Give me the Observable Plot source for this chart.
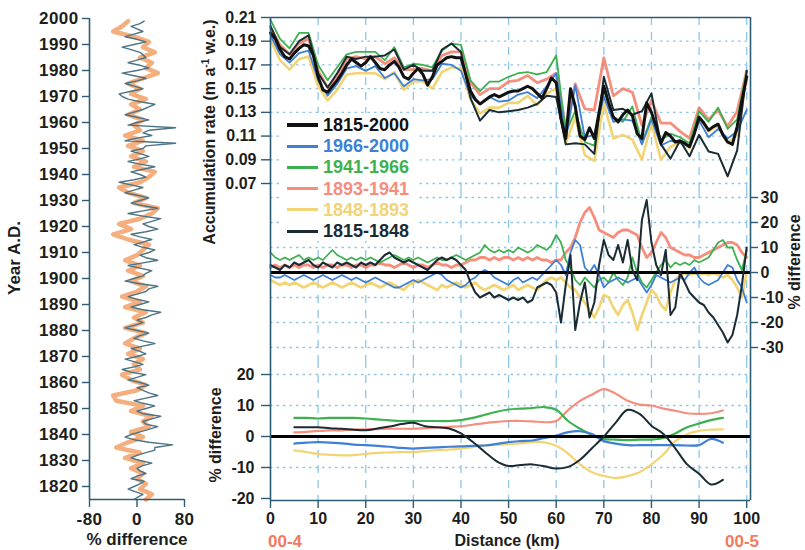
<!DOCTYPE html>
<html><head><meta charset="utf-8">
<script src="https://cdn.jsdelivr.net/npm/d3@7"></script>
<script src="https://cdn.jsdelivr.net/npm/@observablehq/plot@0.6"></script>
<style>
html,body{margin:0;padding:0;background:#fff;}
#root{position:relative;width:805px;height:550px;overflow:hidden;background:#fff;}
#root svg{position:absolute;}
</style></head>
<body><div id="root"></div>
<script>
// ---------------- DATA ----------------
// Left panel: % difference by year
const yearsGray = d3.range(1815, 2000);      // annual, 1815-1999
const grayDiff = [-5,2,10,-3,-15,-5,5,12,-10,0,
  15,5,0,10,25,5,-10,0,15,30,
  30,60,20,-5,-20,-10,5,20,35,15,
  10,25,40,10,0,15,30,10,-5,15,
  35,20,10,0,20,5,-15,0,15,-10,
  -25,-5,10,-5,-20,0,15,5,-10,10,
  30,10,-5,5,20,0,-20,-5,10,0,
  15,25,40,10,-10,5,20,0,-15,0,
  15,20,35,5,-20,-5,10,15,25,5,
  -15,10,35,15,5,20,30,10,-5,10,
  25,5,-10,15,35,20,10,25,40,10,
  -15,10,35,10,-10,5,20,0,-20,-5,
  10,-10,-30,-5,15,5,-10,10,30,5,
  -15,5,20,5,-10,10,15,65,-20,0,
  25,10,20,65,-15,0,20,0,-20,-5,
  10,20,30,5,-15,-25,-30,-10,10,-5,
  -20,0,15,-5,-25,0,20,5,-15,0,
  15,10,5,-10,-25,-5,15,0,-20,-5,
  10,0,-10,5,12];
const yearsOrange = d3.range(1815, 2000, 2); // 2-yr steps, 1815-1999
const orangeDiff = [15,25,5,15,0,10,-10,10,-20,5,
  -35,-15,10,-10,20,10,25,-10,10,-35,
  -40,0,15,-10,-25,5,-5,10,-15,5,
  -20,-5,15,-20,10,-5,15,-20,5,-25,
  0,15,-10,10,-15,5,-20,0,10,20,
  -15,-40,-10,-30,5,25,35,-5,15,-15,
  -30,5,20,30,-5,15,-10,10,-15,10,
  -20,5,-5,10,-15,5,-10,15,-10,5,
  -15,10,35,15,25,5,30,10,20,-5,
  -40,-25,-15];
const yearTicks = d3.range(1820, 2001, 10);
const leftXTicks = [-80, 0, 80];

// Right panels: distance (km)
const kmTicks = [0,10,20,30,40,50,60,70,80,90,100];
const kmFine = d3.range(0, 101);          // 1 km steps
const kmCoarse = d3.range(0, 101, 2);     // 2 km steps
const kmSmooth = d3.range(5, 95.01, 2.5); // smoothed, 2.5 km steps

const seriesNames  = ["1815-2000","1966-2000","1941-1966","1893-1941","1848-1893","1815-1848"];
const seriesColors = ["#111111","#3f7fd6","#3db14f","#f47a66","#f2cf66","#1b2b33"];

// Accumulation rate (m a-1 w.e.)
const acc1815_2000 = [.197,.192,.183,.177,.175,.180,.184,.187,.186,.178,
 .160,.149,.147,.152,.157,.163,.170,.175,.172,.169,
 .172,.177,.172,.167,.166,.170,.173,.168,.160,.158,
 .163,.167,.162,.153,.160,.170,.173,.176,.177,.176,
 .176,.162,.148,.141,.137,.140,.143,.145,.143,.145,
 .147,.148,.148,.150,.152,.150,.146,.142,.150,.159,
 .155,.125,.108,.150,.135,.110,.107,.117,.108,.130,
 .152,.138,.126,.122,.128,.132,.127,.112,.108,.138,
 .130,.118,.104,.113,.110,.105,.106,.104,.101,.112,
 .126,.121,.115,.118,.120,.111,.105,.103,.118,.140,
 .160];
const acc1966_2000 = [.195,.179,.172,.180,.182,.157,.144,.154,.167,.169,.165,.169,.159,.163,.152,.158,.157,.158,.171,.170,.165,.144,.137,.143,.139,.140,.145,.147,.142,.152,.163,.107,.153,.109,.111,.143,.122,.124,.123,.103,.124,.102,.106,.104,.101,.123,.109,.116,.108,.114,.132];
const acc1941_1966 = [.208,.192,.184,.197,.197,.170,.157,.168,.179,.181,.181,.181,.174,.185,.168,.171,.170,.168,.182,.188,.187,.157,.148,.156,.156,.160,.163,.164,.162,.164,.178,.113,.131,.105,.102,.149,.126,.122,.135,.104,.126,.107,.112,.109,.104,.131,.122,.134,.116,.124,.165];
const acc1893_1941 = [.201,.187,.179,.188,.192,.165,.151,.160,.175,.177,.175,.177,.171,.176,.166,.166,.167,.165,.178,.181,.181,.155,.145,.150,.150,.156,.157,.161,.155,.158,.163,.117,.154,.133,.132,.176,.144,.150,.147,.119,.140,.121,.121,.114,.108,.134,.124,.132,.118,.131,.165];
const acc1848_1893 = [.191,.174,.166,.175,.177,.152,.140,.149,.162,.163,.163,.163,.158,.164,.149,.156,.156,.150,.164,.168,.167,.141,.129,.134,.134,.138,.138,.144,.136,.146,.150,.104,.126,.094,.089,.138,.108,.111,.107,.090,.121,.090,.101,.105,.100,.125,.114,.119,.104,.111,.160];
const acc1815_1848 = [.203,.185,.179,.190,.195,.163,.151,.163,.177,.175,.177,.177,.178,.183,.166,.170,.165,.165,.183,.188,.181,.142,.123,.132,.130,.131,.132,.134,.137,.144,.143,.103,.104,.103,.095,.160,.132,.133,.128,.131,.146,.103,.091,.106,.093,.111,.097,.095,.076,.098,.165];
const accTicks = [0.07,0.09,0.11,0.13,0.15,0.17,0.19,0.21];

// % difference from 1815-2000 mean (1 km)
const dif1966_2000 = [-1,-2,-2,-1,-2,-3,-2,-1,-2,-3,
 -2,-1,-2,-3,-2,-1,-2,-3,-2,-3,
 -4,-3,-2,-3,-4,-5,-6,-6,-5,-4,
 -3,-4,-3,-2,-1,0,-1,-3,-4,-5,
 -6,-5,-3,-2,0,1,0,-2,-3,-4,
 -5,-3,-2,-4,-3,-2,-3,-1,1,3,
 5,3,-1,8,13,11,2,0,3,-1,
 -6,-4,-3,-2,-3,-4,-3,-2,-5,-8,
 -5,-1,-2,-3,-4,-3,-2,-3,0,2,
 -2,-4,-5,-4,-3,0,3,2,-3,-6,
 -12];
const dif1941_1966 = [8,6,5,6,5,6,7,5,6,5,
 6,5,7,9,7,6,5,6,5,6,
 5,6,5,4,5,6,7,6,5,6,
 5,6,5,4,5,6,5,5,6,7,
 6,5,6,7,8,11,9,8,9,8,
 9,8,10,9,8,9,11,10,9,11,
 15,12,5,2,-3,-5,-2,-4,-6,-3,
 -2,-4,0,-3,-5,-2,6,0,-4,-6,
 -3,0,3,5,2,4,3,4,3,5,
 4,5,6,9,12,13,10,10,5,1,
 9];
const dif1893_1941 = [2,3,2,3,2,3,2,3,3,2,
 3,2,3,3,2,3,3,2,3,3,
 2,3,3,4,3,3,2,3,4,3,
 2,3,3,2,3,4,3,3,2,3,
 3,4,5,5,6,6,5,6,5,6,
 6,5,6,5,6,5,6,5,5,4,
 5,5,8,10,14,20,24,26,22,17,
 16,15,14,16,17,17,16,15,10,6,
 8,12,16,14,10,9,8,7,7,6,
 6,7,8,9,10,11,12,12,11,8,
 6];
const dif1848_1893 = [-3,-4,-5,-4,-5,-4,-5,-6,-5,-4,
 -5,-6,-5,-4,-5,-6,-5,-4,-5,-6,
 -5,-4,-5,-6,-5,-4,-5,-6,-7,-5,
 -4,-3,-4,-5,-6,-7,-5,-6,-5,-4,
 -5,-6,-5,-4,-6,-7,-6,-5,-6,-7,
 -6,-5,-7,-6,-5,-6,-7,-5,-3,-2,
 -3,-2,-4,-6,-7,-10,-12,-15,-18,-14,
 -9,-10,-14,-17,-13,-11,-16,-23,-17,-12,
 -7,-9,-13,-15,-8,-3,-1,0,-1,0,
 -1,0,-1,0,-1,-2,-1,-3,-6,-10,
 0];
const dif1815_1848 = [3,2,1,3,2,4,3,4,5,3,
 2,4,3,2,4,3,4,3,2,4,
 3,4,3,5,7,8,6,5,4,5,
 4,3,2,1,3,5,6,5,6,5,
 3,1,-4,-8,-10,-9,-8,-10,-9,-10,
 -11,-10,-11,-10,-12,-11,-6,-5,-4,-5,
 -8,-20,-5,7,-23,-12,-4,-18,-12,3,
 13,7,5,11,4,13,1,-3,21,29,
 12,3,-1,9,-17,-14,0,-4,-8,-10,
 -12,-13,-16,-18,-21,-24,-28,-25,-17,-5,
 10];
const midTicks = [-30,-20,-10,0,10,20,30];

// smoothed % difference (2.5 km, 5-95 km)
const sm1966_2000 = [-2.3,-2,-1.8,-2,-2.2,-2.6,-2.8,-3,-3.3,-3.7,-3.9,-3.7,-3.5,-3.3,-3.2,-3,-2.9,-2.4,-1.8,-1.5,-1.3,-0.5,0.3,1.4,1.7,0.8,-1.5,-2.3,-2.8,-2.8,-2.8,-2.8,-2.8,-2.9,-2.8,-0.8,-2];
const sm1941_1966 = [6,6,5.8,6,6,6,5.8,5.5,5.2,5,5,5,5,5,5.3,6,7,8,8.7,9,9.2,9.5,8.6,5,2.5,0.5,-0.8,-1,-1.2,-1,-1,-0.5,1,3,4.2,5.3,6];
const sm1893_1941 = [1.3,1.5,1.8,2,2,2.2,2.3,2.4,2.5,2.5,2.5,2.7,2.9,3.1,3.3,3.8,4.3,4.7,5,5,4.9,4.6,5,8.5,11.5,13.5,15.3,13.8,11.5,10.3,10,9,8.3,7.5,7.3,7.5,8.4];
const sm1848_1893 = [-4.5,-5,-5.6,-5.9,-6.1,-6,-5.6,-5.3,-5.1,-5,-5,-4.7,-4.4,-4.2,-3.9,-3.4,-2.9,-2.7,-2.5,-2.2,-1.8,-1.9,-3,-5.5,-9,-11.5,-12.7,-13.4,-12.8,-11.5,-9,-5.8,-1.5,0.7,1.8,2.2,2.3];
const sm1815_1848 = [3,3,3,2.7,2.5,2.2,2,2.6,3.2,4,4.4,3.3,3,2.6,1,-1.8,-5,-8,-9.5,-9.2,-9,-9.6,-10.3,-9.8,-7.5,-3.8,0,4.5,8.6,7.3,3.5,0.8,-3.8,-9,-12,-15.5,-14];
const botTicks = [-20,-10,0,10,20];

// ---------------- STYLE ----------------
const FONT = '"Liberation Sans", Arial, Helvetica, sans-serif';
const gridC = "#8fc6e8";
const axisC = "#2c5b74";
const ink = "#1d1d1d";
const sty = (size, extra = {}) => Object.assign({fontFamily: FONT, fontSize: size + "px", fontWeight: "bold", color: ink, background: "none", overflow: "visible"}, extra);
const root = document.getElementById("root");
const place = (svg, left, top) => { svg.style.left = left + "px"; svg.style.top = top + "px"; root.appendChild(svg); };
const [cMean, cBlue, cGreen, cRed, cYellow, cOld] = seriesColors;
const xDom = [0, 100.8];
const vGrid = kmTicks.slice(1);
const lineStyle = {
  "1815-2000": {stroke: cMean, strokeWidth: 3},
  "1966-2000": {stroke: cBlue, strokeWidth: 1.8},
  "1941-1966": {stroke: cGreen, strokeWidth: 1.8},
  "1893-1941": {stroke: cRed, strokeWidth: 2.8, strokeOpacity: 0.85},
  "1848-1893": {stroke: cYellow, strokeWidth: 2.6, strokeOpacity: 0.9},
  "1815-1848": {stroke: cOld, strokeWidth: 2}
};
const vGridMark = () => Plot.ruleX(vGrid, {stroke: gridC, strokeWidth: 1.3, strokeDasharray: "8,7"});
const frameMarks = () => [
  Plot.ruleX([xDom[0]], {stroke: axisC, strokeWidth: 1.6}),
  Plot.ruleX([xDom[1]], {stroke: axisC, strokeWidth: 1.6})
];

// ---------------- LEFT PANEL ----------------
const grayData = yearsGray.map((y, i) => ({year: y, v: grayDiff[i]}));
const orangeData = yearsOrange.map((y, i) => ({year: y, v: orangeDiff[i]}));
place(Plot.plot({
  width: 200, height: 550, marginLeft: 89, marginRight: 16, marginTop: 18, marginBottom: 51,
  style: sty(17, {letterSpacing: "0.4px"}),
  x: {domain: [-80, 80]},
  y: {domain: [1815, 2000]},
  marks: [
    Plot.line(orangeData, {x: "v", y: "year", stroke: "#f39a5c", strokeWidth: 4.5, strokeOpacity: 0.8}),
    Plot.line(grayData, {x: "v", y: "year", stroke: "#4d7485", strokeWidth: 1.4}),
    Plot.axisY({ticks: yearTicks, tickSize: 7, tickPadding: 4, tickFormat: d => String(d), stroke: axisC, strokeWidth: 1.4, label: null}),
    Plot.axisX({ticks: leftXTicks, tickSize: 8, tickPadding: 5, tickFormat: d => String(d), stroke: axisC, strokeWidth: 1.4, label: null}),
    Plot.ruleX([-80], {stroke: axisC, strokeWidth: 1.6}),
    Plot.ruleY([1815], {stroke: axisC, strokeWidth: 1.6})
  ]
}), 0, 0);

// ---------------- RIGHT TOP PANEL ----------------
const topSeries = [
  ["1848-1893", acc1848_1893, kmCoarse],
  ["1893-1941", acc1893_1941, kmCoarse],
  ["1941-1966", acc1941_1966, kmCoarse],
  ["1966-2000", acc1966_2000, kmCoarse],
  ["1815-1848", acc1815_1848, kmCoarse],
  ["1815-2000", acc1815_2000, kmFine]
];
place(Plot.plot({
  width: 605, height: 190, marginLeft: 70, marginRight: 55, marginTop: 17, marginBottom: 0,
  style: sty(16),
  x: {domain: xDom, axis: null},
  y: {domain: [0.0641, 0.21]},
  marks: [
    vGridMark(),
    Plot.ruleY(accTicks.slice(0, -1), {stroke: gridC, strokeWidth: 1.3, strokeDasharray: "2.5,4"}),
    ...topSeries.map(([name, vals, xs]) => Plot.lineY(vals, {x: xs, y: vals, ...lineStyle[name]})),
    Plot.axisY({ticks: accTicks, tickFormat: d3.format(".2f"), tickSize: 9, tickPadding: 5, stroke: axisC, strokeWidth: 1.4, label: null}),
    ...frameMarks(),
    Plot.ruleY([0.21], {stroke: axisC, strokeWidth: 1.6})
  ]
}), 200, 0);

// ---------------- RIGHT MIDDLE PANEL ----------------
const midSeries = [
  ["1848-1893", dif1848_1893],
  ["1893-1941", dif1893_1941],
  ["1941-1966", dif1941_1966],
  ["1966-2000", dif1966_2000]
];
place(Plot.plot({
  width: 605, height: 170, marginLeft: 70, marginRight: 55, marginTop: 0, marginBottom: 0,
  style: sty(16),
  x: {domain: xDom, axis: null},
  y: {domain: [-35.2, 32.8]},
  marks: [
    vGridMark(),
    Plot.ruleY(midTicks.filter(t => t !== 0), {stroke: gridC, strokeWidth: 1.3, strokeDasharray: "2.5,4"}),
    ...midSeries.map(([name, vals]) => Plot.lineY(vals, {x: kmFine, y: vals, ...lineStyle[name]})),
    Plot.ruleY([0], {stroke: "#000", strokeWidth: 3}),
    Plot.lineY(dif1815_1848, {x: kmFine, y: dif1815_1848, ...lineStyle["1815-1848"]}),
    Plot.axisY({anchor: "right", ticks: midTicks, tickFormat: d => String(d), tickSize: 7, tickPadding: 3, stroke: axisC, strokeWidth: 1.4, label: null}),
    ...frameMarks()
  ]
}), 200, 190);

// ---------------- RIGHT BOTTOM PANEL ----------------
const botSeries = [
  ["1848-1893", sm1848_1893],
  ["1893-1941", sm1893_1941],
  ["1941-1966", sm1941_1966],
  ["1966-2000", sm1966_2000]
];
place(Plot.plot({
  width: 605, height: 190, marginLeft: 70, marginRight: 55, marginTop: 0, marginBottom: 50,
  style: sty(16),
  x: {domain: xDom},
  y: {domain: [-20.65, 24.52]},
  marks: [
    vGridMark(),
    Plot.ruleY(botTicks.filter(t => t !== 0 && t !== -20), {stroke: gridC, strokeWidth: 1.3, strokeDasharray: "2.5,4"}),
    ...botSeries.map(([name, vals]) => Plot.lineY(vals, {x: kmSmooth, y: vals, curve: "catmull-rom", ...lineStyle[name], strokeWidth: 2.2})),
    Plot.ruleY([0], {stroke: "#000", strokeWidth: 3}),
    Plot.lineY(sm1815_1848, {x: kmSmooth, y: sm1815_1848, curve: "catmull-rom", stroke: cOld, strokeWidth: 2}),
    Plot.axisY({ticks: botTicks, tickFormat: d => String(d), tickSize: 9, tickPadding: 7, stroke: axisC, strokeWidth: 1.4, label: null}),
    Plot.axisX({ticks: kmTicks, tickFormat: d => String(d), tickSize: 8, tickPadding: 4, stroke: axisC, strokeWidth: 1.4, label: null}),
    ...frameMarks(),
    Plot.ruleY([-20.65], {stroke: axisC, strokeWidth: 1.6})
  ]
}), 200, 360);

// ---------------- TEXT LABELS ----------------
function label(html, x, y, o = {}) {
  const d = document.createElement("div");
  d.innerHTML = html;
  d.style.cssText = `position:absolute;left:${x}px;top:${y}px;transform:translate(-50%,-50%)${o.rot ? " rotate(-90deg)" : ""};white-space:nowrap;font-family:${FONT};font-weight:bold;font-size:${o.size || 16}px;color:${o.color || ink};line-height:1;`;
  root.appendChild(d);
}
label("Year A.D.", 14, 258, {rot: true, size: 17});
label("% difference", 137, 539, {size: 17});
label("Accumulation rate (m a<span style='font-size:10px;position:relative;top:-6px'>-1</span> w.e.)", 210, 132, {rot: true, size: 16});
label("% difference", 216, 435, {rot: true, size: 16});
label("% difference", 795, 262, {rot: true, size: 16});
label("Distance (km)", 507, 541, {size: 16});
label("00-4", 285, 541, {size: 17, color: "#f27a5e"});
label("00-5", 742, 541, {size: 17, color: "#f27a5e"});

// ---------------- LEGEND ----------------
const leg = document.createElement("div");
leg.style.cssText = "position:absolute;left:280px;top:113px;width:137px;height:128px;background:#fff;";
seriesNames.forEach((name, i) => {
  const cy = 12 + i * 21.2;
  const st = lineStyle[name];
  const sw = document.createElement("div");
  const h = name === "1815-2000" ? 4 : 3;
  sw.style.cssText = `position:absolute;left:7px;top:${cy - h / 2}px;width:31px;height:${h}px;background:${st.stroke};opacity:${st.strokeOpacity || 1};`;
  leg.appendChild(sw);
  const t = document.createElement("div");
  t.textContent = name;
  t.style.cssText = `position:absolute;left:43px;top:${cy}px;transform:translateY(-50%);font-family:${FONT};font-weight:bold;font-size:18px;line-height:1;color:${st.stroke};opacity:${st.strokeOpacity || 1};white-space:nowrap;`;
  leg.appendChild(t);
});
root.appendChild(leg);
</script>
</body></html>
